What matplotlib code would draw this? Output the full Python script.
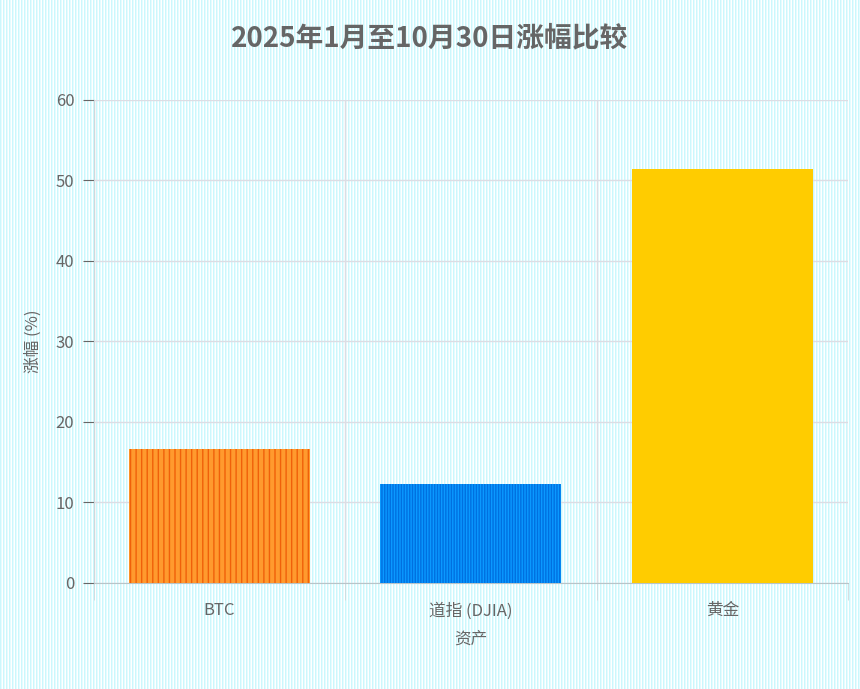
import numpy as np
import matplotlib.pyplot as plt

plt.rcParams['font.family'] = ['Noto Sans CJK SC', 'DejaVu Sans']
plt.rcParams['hatch.linewidth'] = 1.0

assets = ['BTC', '道指 (DJIA)', '黄金']
gains = [16.6, 12.3, 51.4]
colors = ['#ff9a2e', '#0a99ff', '#ffcc00']
hatch_colors = ['#f0600a', '#0070e0', '#ffcc00']
hatches = ['|||', '||||||', None]

fig = plt.figure(figsize=(8.6, 6.89), dpi=100)

# striped background
bg = np.ones((689, 860, 3))
bg[:, ::3] = [0.80, 0.97, 0.99]
bg[:, 1::3] = [0.90, 0.99, 1.0]
fig.figimage(bg, 0, 0, zorder=0)

ax = fig.add_axes([0.109, 0.154, 0.877, 0.701])
ax.set_zorder(2)
ax.patch.set_alpha(0)

x = np.arange(len(assets))
for xi, v, c, hc, h in zip(x, gains, colors, hatch_colors, hatches):
    ax.bar(xi, v, 0.72, color=c, edgecolor=hc, linewidth=0, hatch=h, zorder=3)

ax.set_xlim(-0.5, 2.5)
ax.set_ylim(0, 60)
ax.set_yticks(range(0, 61, 10))
ax.set_xticks(x)
ax.set_xticklabels(assets)
ax.set_xticks([-0.5, 0.5, 1.5, 2.5], minor=True)
ax.tick_params(axis='x', which='major', length=0, pad=14)
ax.tick_params(axis='x', which='minor', length=12, color='#d0d8dc')
ax.tick_params(axis='y', length=8, color='#d0d8dc', pad=6)
ax.tick_params(colors='#666666', labelsize=12)
ax.grid(axis='y', color='#dcdde4', linewidth=1, zorder=1)
ax.grid(axis='x', which='minor', color='#dcdde4', linewidth=1, zorder=1)
for s in ['top', 'right']:
    ax.spines[s].set_visible(False)
ax.spines['left'].set_color('#d0d8dc')
ax.spines['bottom'].set_color('#b8c4c8')

ax.set_xlabel('资产', fontsize=12, color='#666666', labelpad=8)
ax.set_ylabel('涨幅 (%)', fontsize=12, color='#666666', labelpad=10)
fig.suptitle('2025年1月至10月30日涨幅比较', fontsize=20, fontweight='bold',
             color='#666666', y=0.965)

fig.savefig('out.png', dpi=100)
